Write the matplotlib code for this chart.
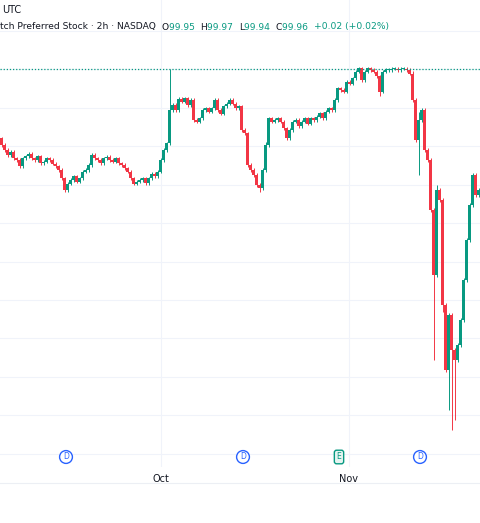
import matplotlib
matplotlib.use("Agg")
import matplotlib.pyplot as plt

closes = [99.803,99.790,99.777,99.785,99.769,99.764,99.748,99.769,99.774,99.780,
99.769,99.764,99.774,99.756,99.759,99.769,99.764,99.754,99.748,99.738,
99.717,99.686,99.702,99.712,99.722,99.707,99.717,99.733,99.738,99.751,
99.777,99.769,99.764,99.756,99.769,99.772,99.764,99.759,99.769,99.756,
99.751,99.743,99.733,99.717,99.702,99.707,99.712,99.717,99.704,99.717,
99.728,99.722,99.733,99.764,99.790,99.808,99.894,99.907,99.894,99.923,
99.915,99.925,99.907,99.920,99.868,99.863,99.873,99.894,99.899,99.889,
99.899,99.920,99.894,99.884,99.904,99.910,99.920,99.910,99.899,99.904,
99.842,99.834,99.751,99.738,99.725,99.699,99.691,99.738,99.803,99.873,
99.863,99.868,99.873,99.863,99.847,99.821,99.842,99.863,99.868,99.852,
99.863,99.873,99.858,99.873,99.868,99.876,99.886,99.873,99.889,99.899,
99.894,99.920,99.951,99.946,99.941,99.967,99.962,99.977,99.993,100.003,
99.972,99.993,100.003,99.998,99.993,99.982,99.941,99.993,99.998,99.998,
100.001,100.001,99.998,100.001,100.001,99.998,99.988,99.920,99.816,99.868,
99.894,99.790,99.764,99.634,99.465,99.686,99.660,99.387,99.218,99.361,
99.270,99.244,99.283,99.348,99.452,99.556,99.647,99.725,99.673,99.686]
first_open = 99.820
wick_high = {56: 100.000, 0: 99.820, 53: 99.770, 88: 99.810, 137: 99.995, 139: 99.890, 145: 99.700}
wick_low = {56: 99.863, 86: 99.681, 126: 99.930, 139: 99.725, 144: 99.244, 147: 99.370,
            149: 99.114, 150: 99.062, 151: 99.088, 152: 99.270}
last_price_line = 100.000
grid_levels = [100.1, 100.0, 99.9, 99.8, 99.7, 99.6, 99.5, 99.4, 99.3, 99.2, 99.1, 99.0]
month_ticks = [53.3, 115.7]
month_labels = ["Oct", "Nov"]
events = [(21.5, "D"), (80.5, "D"), (112.5, "E"), (139.5, "D")]

UP, DN = "#089981", "#F23645"
fig = plt.figure(figsize=(4.8, 5.23), dpi=100)
ax = fig.add_axes([0, 1 - 467/523, 1, 467/523])
opens = [first_open] + closes[:-1]
for i, (o, c) in enumerate(zip(opens, closes)):
    col = UP if c >= o else DN
    hi = max(o, c) + 0.004
    lo = min(o, c) - 0.004
    hi = max(hi, wick_high.get(i, hi))
    lo = min(lo, wick_low.get(i, lo))
    ax.vlines(i, lo, hi, color=col, lw=0.7)
    h = abs(c - o)
    ax.bar(i, max(h, 0.003), bottom=min(o, c), width=0.7, color=col, lw=0)

for g in grid_levels:
    ax.axhline(g, color="#f0f3fa", lw=0.8, zorder=0)
for t in month_ticks:
    ax.axvline(t, color="#f0f3fa", lw=0.8, zorder=0)
ax.axhline(last_price_line, color="#089981", lw=0.9, ls=(0, (1, 1.5)))
ax.set_xlim(-0.5, 159.5)
ax.set_ylim(100.18 - 0.0026 * 467, 100.18)
ax.set_xticks(month_ticks)
ax.set_xticklabels(month_labels, fontsize=7, color="#131722")
ax.tick_params(axis="x", length=0, pad=5)
ax.set_yticks([])
for s in ax.spines.values():
    s.set_visible(False)

ybot = 100.18 - 0.0026 * 457
for x, lab in events:
    if lab == "D":
        ax.text(x, ybot, lab, ha="center", va="center", fontsize=5.5, color="#2962FF",
                bbox=dict(boxstyle="circle,pad=0.25", fc="white", ec="#2962FF", lw=1))
    else:
        ax.text(x, ybot, lab, ha="center", va="center", fontsize=5.5, color="#089981",
                bbox=dict(boxstyle="round,pad=0.3", fc="#e6f4f1", ec="#089981", lw=1))

fig.add_artist(plt.Line2D([0, 1], [1 - 483/523] * 2, color="#eceff4", lw=0.8))
fig.text(2/480, 1 - 10/523, "UTC", fontsize=7, color="#131722", va="center")
parts = [("tch Preferred Stock · 2h · NASDAQ  ", "#131722"), ("O", "#131722"), ("99.95  ", UP),
         ("H", "#131722"), ("99.97  ", UP), ("L", "#131722"), ("99.94  ", UP),
         ("C", "#131722"), ("99.96  ", UP), ("+0.02 (+0.02%)", UP)]
fig.canvas.draw()
x = 0.0
r = fig.canvas.get_renderer()
for s, c in parts:
    t = fig.text(x, 1 - 27/523, s, fontsize=6.6, color=c, va="center")
    bb = t.get_window_extent(renderer=r)
    x += bb.width / fig.bbox.width
fig.savefig("out.png", dpi=100)
